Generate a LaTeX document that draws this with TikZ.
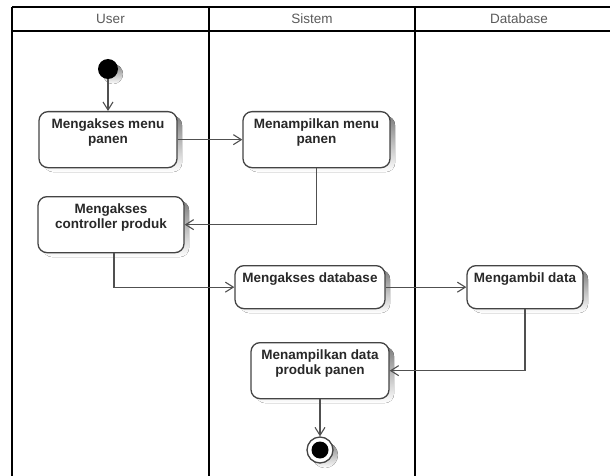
\documentclass[tikz,border=0pt]{standalone}
\usepackage{fontspec}
\setmainfont{Liberation Sans}
\usetikzlibrary{arrows.meta}

\definecolor{laneLine}{RGB}{0, 0, 0}
\definecolor{boxLine}{RGB}{68, 68, 68}
\definecolor{flowLine}{RGB}{80, 80, 80}
\definecolor{boxText}{RGB}{40, 40, 40}
\definecolor{headText}{RGB}{90, 90, 90}
\definecolor{shade}{RGB}{225, 225, 225}

\begin{document}
\begin{tikzpicture}[x=1pt, y=-1pt,
    act/.style={draw=boxLine, line width=1.3pt, fill=white, rounded corners=9pt,
        align=center, font=\fontsize{13.5}{15}\selectfont\bfseries, text=boxText,
        inner xsep=4pt, inner ysep=0pt, text height=17pt, text depth=26pt, anchor=north},
    act2/.style={act, text height=32pt, text depth=24pt},
    flow/.style={draw=flowLine, line width=1.1pt, -{Straight Barb[length=8pt, width=10pt]}},
    lanehead/.style={font=\fontsize{13.5}{15}\selectfont, text=headText}]
    \useasboundingbox (0,0) rectangle (610,476);

    % Swimlanes
    \draw[laneLine, line width=1.6pt] (12,7) -- (610,7) (12,31) -- (610,31);
    \foreach \x in {12, 209, 415} {
        \draw[laneLine, line width=1.6pt] (\x,7) -- (\x,476);
    }
    \node[lanehead] (hUser) at (110.5,19) {User};
    \node[lanehead] (hSistem) at (312,19) {Sistem};
    \node[lanehead] (hDb) at (519,19) {Database};

    % Shadows behind the shapes
    \begin{scope}[shift={(5,5)}]
        \fill[shade] (108,69) circle (10pt);
        \fill[shade] (320,450) circle (13pt);
        \foreach \xa/\ya/\xb/\yb in {39/111/177/167, 243/111/390/167, 38/196/184/252,
                                    235/265/385/308, 467/265/583/308, 251/342/389/398} {
            \fill[shade, rounded corners=9pt] (\xa,\ya) rectangle (\xb,\yb);
        }
    \end{scope}

    % Start and end
    \node[circle, fill=black, minimum size=20pt, inner sep=0pt] (start) at (108,69) {};
    \node[circle, draw=boxLine, line width=1.3pt, fill=white, minimum size=26pt, inner sep=0pt] (end) at (320,450) {};
    \fill[black] (end) circle (8.5pt);

    % Activities
    \node[act2, minimum width=138pt] (accMenu) at (108,111) {Mengakses menu\\panen};
    \node[act2, minimum width=147pt] (showMenu) at (316.5,111) {Menampilkan menu\\panen};
    \node[act2, minimum width=146pt] (accCtrl) at (111,196) {Mengakses\\controller produk};
    \node[act, minimum width=150pt] (accDb) at (310,265) {Mengakses database};
    \node[act, minimum width=116pt] (getData) at (525,265) {Mengambil data};
    \node[act2, minimum width=138pt] (showData) at (320,342) {Menampilkan data\\produk panen};

    % Flow
    \draw[flow] (start) -- (accMenu);
    \draw[flow] (accMenu) -- (showMenu);
    \draw[flow] (showMenu.south) |- (accCtrl.east);
    \draw[flow] ([xshift=3pt]accCtrl.south) |- (accDb.west);
    \draw[flow] (accDb) -- (getData);
    \draw[flow] (getData.south) |- (showData.east);
    \draw[flow] (showData) -- (end);
\end{tikzpicture}
\end{document}
